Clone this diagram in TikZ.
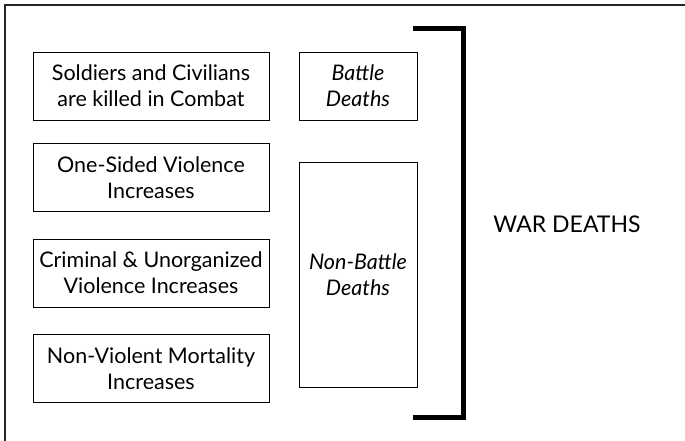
\documentclass[tikz,border=0pt]{standalone}
\usepackage{fontspec}
\setmainfont{Lato}
\usetikzlibrary{calc}
\tikzset{cause/.style={draw,line width=0.9pt,minimum width=236pt,minimum height=68pt,align=center,inner sep=2pt,font=\fontsize{21.5}{26}\selectfont},
         kind/.style={draw,line width=0.9pt,minimum width=118pt,align=center,inner sep=2pt,font=\fontsize{21.5}{26}\selectfont\itshape}}

\begin{document}
\begin{tikzpicture}[x=1pt,y=-1pt]
              \useasboundingbox (0,0) rectangle (685,441);
              \draw[line width=1.6pt,black!85] (5,441) -- (5,5) -- (685,5);
              \node[cause] (combat)   at (151,86)    {Soldiers and Civilians\\are killed in Combat};
              \node[cause] (onesided) at (151,177.5) {One-Sided Violence\\Increases};
              \node[cause] (criminal) at (151,273)   {Criminal \& Unorganized\\Violence Increases};
              \node[cause] (nonviol)  at (151,368.5) {Non-Violent Mortality\\Increases};
              \node[kind,minimum height=68pt]  (battle)    at (358,86)    {Battle\\Deaths};
              \node[kind,minimum height=225pt] (nonbattle) at (358,274.5) {Non-Battle\\Deaths};
              \draw[line width=5pt] (413,29) -- (463,29) -- (463,417) -- (413,417);
              \node[font=\fontsize{23}{26}\selectfont] (war) at (567,224) {WAR DEATHS};
            \end{tikzpicture}
\end{document}
